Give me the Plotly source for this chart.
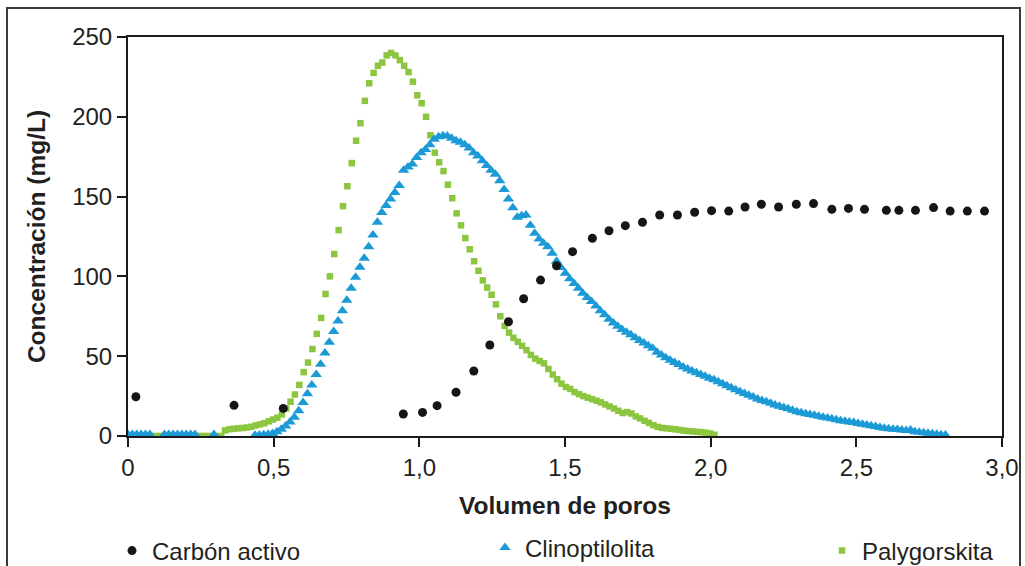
import plotly.graph_objects as go

# Carbón activo
carbon_x = [0.027, 0.364, 0.533, 0.945, 1.011, 1.061, 1.126, 1.187, 1.242, 1.306,
            1.358, 1.416, 1.471, 1.526, 1.594, 1.651, 1.707, 1.766, 1.825, 1.886,
            1.945, 2.003, 2.062, 2.118, 2.174, 2.233, 2.294, 2.353, 2.416, 2.473,
            2.528, 2.603, 2.646, 2.703, 2.765, 2.822, 2.881, 2.940]
carbon_y = [24.6, 19.2, 17.3, 13.8, 14.8, 19.0, 27.4, 40.7, 57.0, 71.6,
            86.0, 97.7, 106.7, 115.5, 123.9, 128.6, 131.8, 133.9, 138.5, 138.5,
            140.2, 141.2, 140.9, 143.5, 145.2, 143.5, 145.2, 145.6, 142.0, 142.6,
            142.0, 141.4, 141.4, 141.4, 143.1, 140.9, 140.9, 140.9]

# Clinoptilolita
clino_x = [0.000, 0.015, 0.030, 0.045, 0.060, 0.075, 0.125, 0.140, 0.155, 0.170,
           0.185, 0.200, 0.215, 0.230, 0.295,
           0.436, 0.451, 0.466, 0.481, 0.496, 0.511, 0.526, 0.541, 0.556, 0.571,
           0.586, 0.601, 0.616, 0.631, 0.646, 0.661, 0.676, 0.691, 0.706, 0.721,
           0.736, 0.751, 0.766, 0.781, 0.796, 0.811, 0.826, 0.841, 0.856, 0.871,
           0.886, 0.901, 0.916, 0.931, 0.946, 0.961, 0.976, 0.991, 1.006, 1.021,
           1.036, 1.051, 1.066, 1.081, 1.096, 1.111, 1.126, 1.141, 1.156, 1.171,
           1.186, 1.201, 1.216, 1.231, 1.246, 1.261, 1.276, 1.291, 1.306, 1.321,
           1.336, 1.351, 1.366, 1.381, 1.396, 1.411, 1.426, 1.441, 1.456, 1.471,
           1.486, 1.501, 1.516, 1.531, 1.546, 1.561, 1.576, 1.591, 1.606, 1.621,
           1.636, 1.651, 1.666, 1.681, 1.696, 1.711, 1.726, 1.741, 1.756, 1.771,
           1.786, 1.801, 1.816, 1.831, 1.846, 1.861, 1.876, 1.891, 1.906, 1.921,
           1.936, 1.951, 1.966, 1.981, 1.996, 2.011, 2.026, 2.041, 2.056, 2.071,
           2.086, 2.101, 2.116, 2.131, 2.146, 2.161, 2.176, 2.191, 2.206, 2.221,
           2.236, 2.251, 2.266, 2.281, 2.296, 2.311, 2.326, 2.341, 2.356, 2.371,
           2.386, 2.401, 2.416, 2.431, 2.446, 2.461, 2.476, 2.491, 2.506, 2.521,
           2.536, 2.551, 2.566, 2.581, 2.596, 2.611, 2.626, 2.641, 2.656, 2.671,
           2.686, 2.701, 2.716, 2.731, 2.746, 2.761, 2.776, 2.791, 2.806]
clino_y = [1.0, 1.0, 1.0, 1.0, 1.0, 1.0, 1.0, 1.0, 1.0, 1.0,
           1.0, 1.0, 1.0, 1.0, 1.0,
           0.5, 0.6, 0.8, 1.1, 1.6, 2.6, 4.2, 6.2, 8.7, 11.7,
           15.8, 21.0, 26.5, 32.0, 38.5, 45.0, 52.0, 58.8, 65.5, 72.0,
           78.5, 85.0, 92.5, 99.5, 105.7, 111.4, 118.5, 126.0, 134.0, 140.0,
           144.5, 148.5, 152.5, 157.0, 166.5, 168.5, 170.5, 174.5, 177.5, 179.5,
           182.5, 186.0, 187.5, 188.2, 188.0, 186.5, 185.0, 184.0, 182.5, 180.5,
           177.5, 175.5, 172.5, 169.5, 166.5, 164.0, 160.0, 154.5, 148.5, 143.0,
           137.0, 138.0, 138.5, 132.0, 127.0, 123.5, 120.7, 118.5, 114.5, 109.5,
           105.5, 102.0, 98.5, 95.5, 92.5, 89.5, 86.8, 84.2, 81.5, 78.5,
           76.0, 73.2, 70.8, 68.8, 66.8, 65.0, 63.5, 61.5, 59.8, 58.2,
           56.5, 55.0, 52.5, 50.8, 49.0, 47.5, 46.0, 44.8, 43.2, 42.0,
           40.8, 39.7, 38.6, 37.5, 36.2, 35.2, 34.0, 32.8, 31.5, 30.2,
           29.0, 27.8, 26.6, 25.5, 24.5, 23.2, 22.3, 21.5, 20.5, 19.5,
           18.6, 17.8, 17.0, 16.2, 15.2, 14.6, 14.0, 13.5, 13.0, 12.4,
           11.8, 11.2, 10.8, 10.2, 9.6, 9.2, 8.8, 8.4, 7.9, 7.4,
           6.9, 6.4, 5.9, 5.4, 4.9, 4.6, 4.3, 4.0, 3.7, 3.4,
           3.7, 2.7, 2.3, 2.0, 1.7, 1.4, 1.1, 0.8, 0.6]

# Palygorskita
paly_x = [0.000, 0.016, 0.032, 0.048, 0.064, 0.080, 0.096, 0.112, 0.128, 0.144,
          0.160, 0.176, 0.192, 0.208, 0.224, 0.240, 0.256, 0.272, 0.288, 0.304,
          0.320,
          0.333, 0.348, 0.363, 0.378, 0.393, 0.408, 0.423, 0.438, 0.453, 0.468,
          0.483, 0.498, 0.513, 0.528, 0.543, 0.558, 0.573, 0.588, 0.603, 0.618,
          0.633, 0.648, 0.663, 0.678, 0.693, 0.708, 0.723, 0.738, 0.753, 0.768,
          0.783, 0.798, 0.813, 0.828, 0.843, 0.858, 0.873, 0.888, 0.903, 0.918,
          0.933, 0.948, 0.963, 0.978, 0.993, 1.008, 1.023, 1.038, 1.053, 1.068,
          1.083, 1.098, 1.113, 1.128, 1.143, 1.158, 1.173, 1.188, 1.203, 1.218,
          1.233, 1.248, 1.263, 1.278, 1.293, 1.308, 1.323, 1.338, 1.353, 1.368,
          1.383, 1.398, 1.413, 1.428, 1.443, 1.458, 1.473, 1.488, 1.503, 1.518,
          1.533, 1.548, 1.563, 1.578, 1.593, 1.608, 1.623, 1.638, 1.653, 1.668,
          1.683, 1.698, 1.713, 1.728, 1.743, 1.758, 1.773, 1.788, 1.803, 1.818,
          1.833, 1.848, 1.863, 1.878, 1.893, 1.908, 1.923, 1.938, 1.953, 1.968,
          1.983, 1.998, 2.013]
paly_y = [0.0, 0.0, 0.0, 0.0, 0.0, 0.0, 0.0, 0.0, 0.0, 0.0,
          0.0, 0.0, 0.0, 0.0, 0.0, 0.0, 0.0, 0.0, 0.0, 0.0,
          0.0,
          3.5, 4.2, 4.5, 4.8, 5.0, 5.3, 5.8, 6.6, 7.3, 8.0,
          9.2, 10.3, 11.5, 13.5, 17.2, 21.5, 26.0, 32.0, 40.0, 46.0,
          54.5, 64.0, 74.0, 89.0, 100.0, 114.0, 129.0, 144.0, 156.5, 171.0,
          185.0, 196.0, 210.0, 221.0, 227.5, 232.0, 234.0, 238.5, 240.0, 238.5,
          235.5, 232.0, 228.0, 222.0, 213.5, 208.5, 200.0, 188.5, 177.5, 171.5,
          166.0, 157.5, 149.0, 139.5, 132.0, 124.0, 117.0, 109.5, 103.5, 97.5,
          93.0, 88.5, 82.5, 75.0, 69.0, 64.8, 61.5, 59.0, 56.5, 53.8,
          50.8, 48.5, 47.0, 45.5, 42.0, 38.5, 35.6, 32.8, 30.7, 29.5,
          27.5, 26.2, 25.0, 24.0, 23.1, 22.1, 21.1, 19.8, 18.5, 17.2,
          15.8, 14.4, 15.0, 14.1, 12.3, 11.0, 9.5, 8.2, 6.8, 5.7,
          5.1, 4.8, 4.5, 4.2, 3.8, 3.4, 3.1, 2.9, 2.6, 2.4,
          2.1, 1.6, 0.8]

x_ticks = [0, 0.5, 1.0, 1.5, 2.0, 2.5, 3.0]
x_tick_labels = ["0", "0,5", "1,0", "1,5", "2,0", "2,5", "3,0"]
y_ticks = [0, 50, 100, 150, 200, 250]

FONT = "Liberation Sans, Arial, sans-serif"
TEXT = "#231f20"

fig = go.Figure()
fig.add_trace(go.Scatter(
    x=paly_x, y=paly_y, mode="markers", name="Palygorskita",
    marker=dict(symbol="square", size=6.5, color="#8cc63f"),
    legend="legend3"))
fig.add_trace(go.Scatter(
    x=clino_x, y=clino_y, mode="markers", name="Clinoptilolita",
    marker=dict(symbol="triangle-up", size=10, color="#1b9ad6"),
    legend="legend2"))
fig.add_trace(go.Scatter(
    x=carbon_x, y=carbon_y, mode="markers", name="Carbón activo",
    marker=dict(symbol="circle", size=9, color="#161616"),
    legend="legend"))

L, R, T, B = 128, 23, 37, 130
W, H = 1025, 566
pw, ph = W - L - R, H - T - B


def px_x(p):
    return (p - L) / pw


def px_y(p):
    return (H - B - p) / ph


legend_common = dict(orientation="h", xanchor="left", yanchor="middle",
                     bgcolor="rgba(0,0,0,0)",
                     font=dict(family=FONT, size=24, color=TEXT))

fig.update_layout(
    width=W, height=H,
    margin=dict(l=L, r=R, t=T, b=B, autoexpand=False),
    paper_bgcolor="white", plot_bgcolor="white",
    showlegend=True,
    legend=dict(x=px_x(112), y=px_y(551), **legend_common),
    legend2=dict(x=px_x(485), y=px_y(548), **legend_common),
    legend3=dict(x=px_x(822), y=px_y(551), **legend_common),
    xaxis=dict(
        range=[0, 3.0], tickvals=x_ticks, ticktext=x_tick_labels,
        showgrid=False, zeroline=False,
        showline=True, linecolor="#1a1a1a", linewidth=2, mirror=True,
        ticks="outside", ticklen=9, tickwidth=2, tickcolor="#1a1a1a",
        tickfont=dict(family=FONT, size=24, color=TEXT),
        title=dict(text="<b>Volumen de poros</b>", standoff=17,
                   font=dict(family=FONT, size=24.5, color=TEXT)),
    ),
    yaxis=dict(
        range=[0, 250], tickvals=y_ticks,
        showgrid=False, zeroline=False,
        showline=True, linecolor="#1a1a1a", linewidth=2, mirror=True,
        ticks="outside", ticklen=9, tickwidth=2, tickcolor="#1a1a1a",
        tickfont=dict(family=FONT, size=24, color=TEXT),
        title=dict(text="<b>Concentración (mg/L)</b>", standoff=20,
                   font=dict(family=FONT, size=24.5, color=TEXT)),
    ),
    shapes=[dict(type="rect", xref="paper", yref="paper",
                 x0=px_x(7), x1=px_x(1020), y0=px_y(575), y1=px_y(8),
                 line=dict(color="#3a3a3a", width=2), layer="below")],
)

fig.write_html("out.html")
